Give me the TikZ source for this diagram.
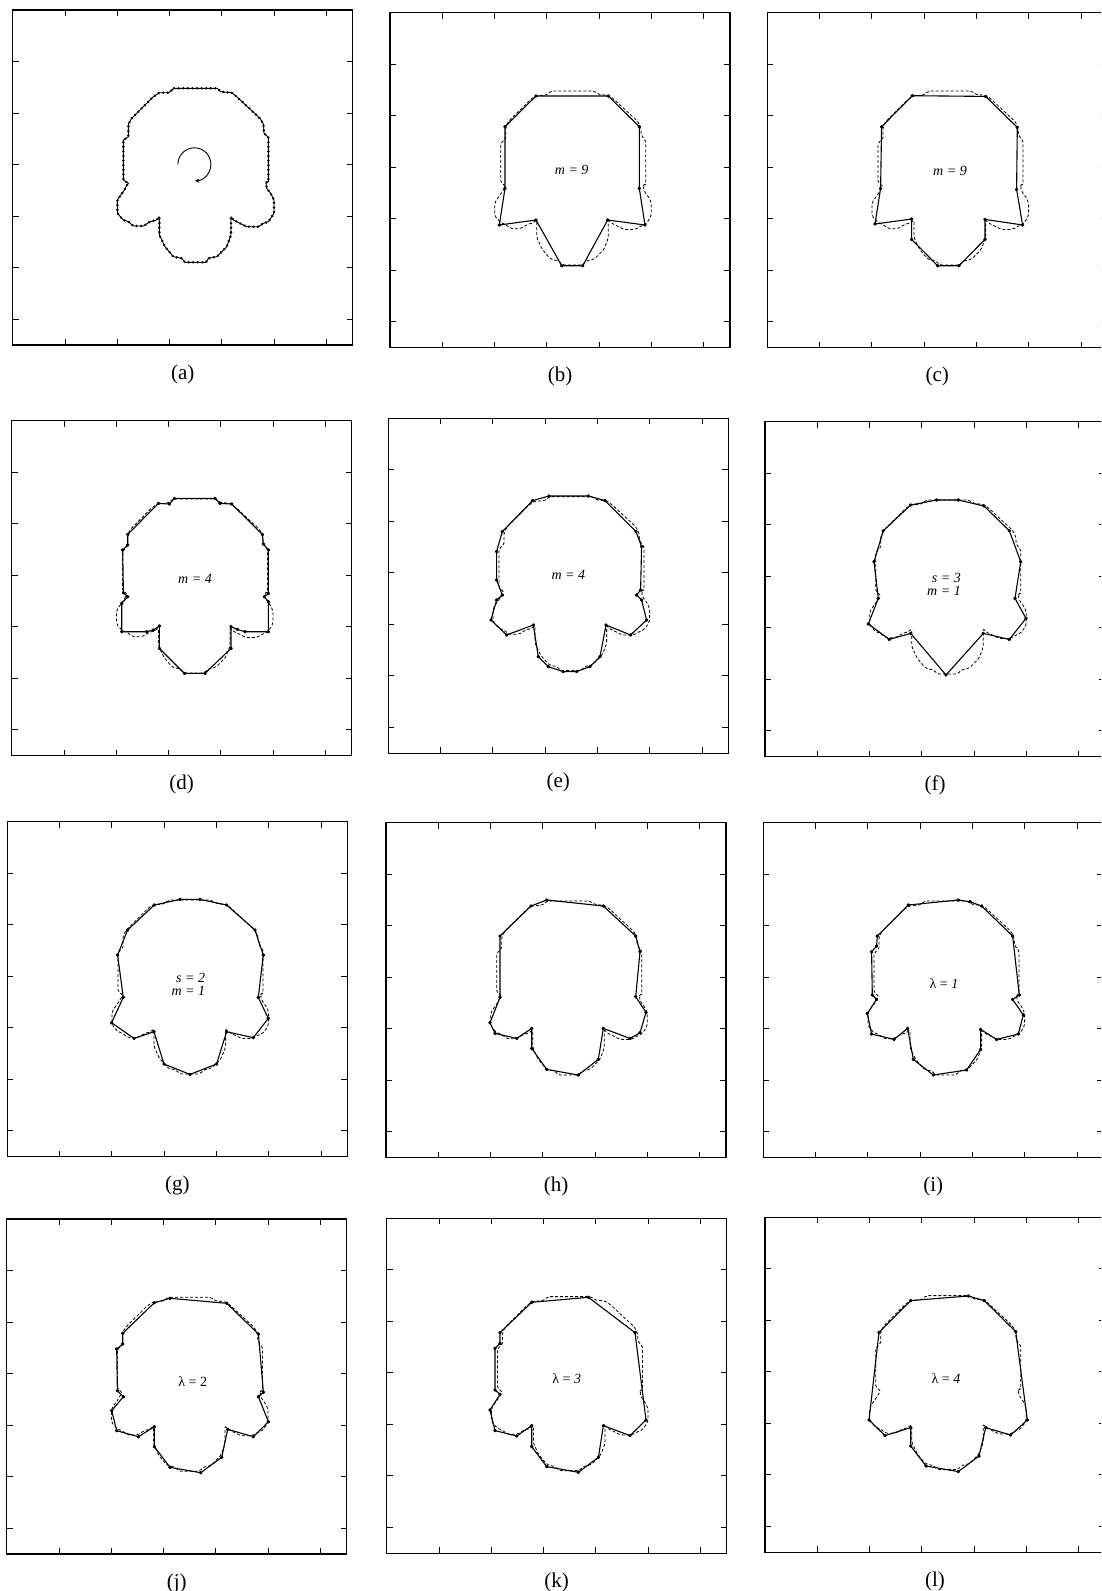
\documentclass[tikz,border=0pt]{standalone}
\usepackage{fontspec}
\setmainfont{Liberation Serif}
\usetikzlibrary{decorations.markings}

\tikzset{
  frame/.style={line width=1.4pt},
  tickmark/.style={line width=1pt},
  approx/.style={line width=1.1pt, line join=round},
  orig/.style={line width=0.8pt, dash pattern=on 3pt off 2pt, rounded corners=2pt},
  chain/.style={line width=0.9pt, line join=round, postaction={decorate},
    decoration={markings, mark=between positions 0 and 1 step 4.6pt with {\fill (0,0) circle (1.4pt);}}},
  turn/.style={line width=0.9pt, -stealth},
  sublabel/.style={font=\fontsize{21}{22}\selectfont},
  param/.style={font=\fontsize{14}{13}\selectfont, align=right, inner sep=0pt},
}

% original contour, frame-local pixels
\newcommand{\baseshape}{(161.3,78.3) -- (204.7,78.3) -- (208,81.7) -- (219,82.7) -- (224,86.7) -- (247.3,108.3) -- (250.7,114) -- (251.3,123.3) -- (255.7,127.3) -- (255.7,171.7) -- (253.3,172.7) -- (254,178.3) -- (258,183.3) -- (261.3,190) -- (261.3,203.3) -- (255.7,211.7) -- (250.7,213.3) -- (245.7,216.7) -- (234,216.7) -- (227.3,213.3) -- (220.7,210) -- (218.3,206.7) -- (218.3,225) -- (214,236.7) -- (204,246.7) -- (195.7,248.3) -- (193.3,252.3) -- (172.3,252.3) -- (169,248.3) -- (160.7,246.7) -- (152.3,236.7) -- (146.7,225) -- (146.7,206.7) -- (144,210) -- (137.3,211.7) -- (130.7,216) -- (120.7,216) -- (115.7,211.7) -- (110.7,210) -- (104.7,203.3) -- (104.7,190) -- (108,185) -- (111.3,180.7) -- (113.3,176.7) -- (115.7,173.3) -- (110.7,170) -- (110.7,130) -- (115.7,126.7) -- (115.7,114) -- (119,108.3) -- (140.7,86.7) -- (146.7,82.7) -- (156,82.7) -- cycle}

% frame with ticks and caption
\newcommand{\panelframe}[2]{%
  \draw[frame] (0,0) rectangle (340,335);
  \foreach \k in {1,...,6} {
    \draw[tickmark] (52.3*\k,0) -- ++(0,6);
    \draw[tickmark] (52.3*\k,335) -- ++(0,-6);
    \draw[tickmark] (0,51.5*\k) -- ++(6,0);
    \draw[tickmark] (340,51.5*\k) -- ++(-6,0);
  }
  \node[sublabel] (#1) at (170,364) {#2};
}

% approximating polygon with vertex dots
\newcommand{\approxpoly}[1]{%
  \draw[orig] \baseshape;
  \draw[approx] plot[mark=*, mark size=1.2pt] coordinates {#1} -- cycle;
}

\begin{document}
\begin{tikzpicture}[x=1pt, y=-1pt]
  \useasboundingbox (0,0) rectangle (1101,1591);
  \clip (0,0) rectangle (1101,1591);

  % (a) original contour
  \begin{scope}[shift={(12.7,10)}]
    \panelframe{la}{(a)}
    \draw[chain] \baseshape;
    \draw[turn] (181.7,154.3) ++(180:16.5) arc[start angle=180, end angle=448, radius=16.5];
  \end{scope}

  % (b)
  \begin{scope}[shift={(390,12.7)}]
    \panelframe{lb}{(b)}
    \approxpoly{(146,83.3) (218.3,83.3) (249.3,114) (249.3,175.7) (255,212.3) (217.7,207.3) (192.7,253) (171.7,253) (146,207.3) (109.3,212.3) (115,175.7) (115,114)}
    \node[param] (tb) at (181.7,157.3) {\itshape m = 9};
  \end{scope}

  % (c)
  \begin{scope}[shift={(767.3,12.7)}]
    \panelframe{lc}{(c)}
    \approxpoly{(145,83) (218.3,83.7) (250,114.7) (249.3,176.7) (255.3,212.3) (217.7,206.7) (217.7,226.7) (191.7,253) (170.3,253) (144.3,226.7) (144.3,206.3) (107.7,211.3) (113.3,175.7) (114.3,114)}
    \node[param] (tc) at (182.7,158) {\itshape m = 9};
  \end{scope}

  % (d)
  \begin{scope}[shift={(11.7,420.7)}]
    \panelframe{ld}{(d)}
    \approxpoly{(162.7,77.7) (203.3,77.7) (208.3,82.7) (220,83.3) (250.7,113.7) (251.7,123.3) (256.7,129.3) (256.7,172.7) (252.7,176) (256.7,181) (256.7,211) (233.3,211) (225.7,208.7) (219.3,206) (219.3,227.7) (193.3,252.7) (172.7,252.7) (147.7,227.7) (147.7,205.3) (141.7,209.3) (135,211) (110,211) (110,182.7) (116,176) (111.7,172) (111,129.3) (116,124.3) (116,113.7) (146.7,82.7) (157.7,83.3)}
    \node[param] (td) at (183.3,157.7) {\itshape m = 4};
  \end{scope}

  % (e)
  \begin{scope}[shift={(388.3,418.3)}]
    \panelframe{le}{(e)}
    \approxpoly{(160.7,77.7) (200,77.7) (216.7,82.3) (247.7,113.3) (253.3,128.3) (252.3,171.7) (248.3,176.7) (253.3,181.7) (258.3,201.7) (242.3,216.7) (217.7,206.7) (211.7,238.3) (201.7,248.3) (188.3,253.3) (175,253.3) (160,248.3) (150,238.3) (145,206.7) (118.3,216.7) (102.7,201.7) (108.3,181.7) (114,176.7) (108.3,161.7) (108.3,133.3) (114,113.3) (144.3,82.3)}
    \node[param] (te) at (180,156.7) {\itshape m = 4};
  \end{scope}

  % (f)
  \begin{scope}[shift={(765,421.7)}]
    \panelframe{lf}{(f)}
    \approxpoly{(145.7,83.3) (171.7,78.3) (193.3,78.3) (219,84.3) (244.3,109) (255.7,140) (250,176.7) (261,196.7) (244.3,217.7) (218.3,211.7) (181,253.3) (145.7,211.7) (124.3,217.7) (103.3,202.3) (113.3,176.7) (109,140) (118.3,109)}
    \node[param] (tf) at (179,162.3) {\itshape s = 3\\ \itshape m = 1};
  \end{scope}

  % (g)
  \begin{scope}[shift={(7.3,821.7)}]
    \panelframe{lg}{(g)}
    \approxpoly{(147,83.3) (172.7,77.7) (192.7,77.7) (219.3,83.3) (247.7,108.3) (256,133.3) (251,175.7) (261,196.7) (246,216) (219.3,210) (209.3,242.3) (182.7,252.7) (156.7,242.3) (146.7,210) (126.7,216.7) (104.3,201) (116,175.7) (110.3,133.3) (120.3,108.3)}
    \node[param] (tg) at (181,162.3) {\itshape s = 2\\ \itshape m = 1};
  \end{scope}

  % (h)
  \begin{scope}[shift={(386,822.7)}]
    \panelframe{lh}{(h)}
    \approxpoly{(160.7,77.3) (217.3,83.3) (249.7,113.3) (254,129) (249.7,174) (260,189.7) (254,210) (244,215.7) (217.3,205.7) (212.3,236.7) (192.3,252.3) (160.7,246.7) (145.7,225.7) (145.7,205.7) (130.7,215.7) (109,210.7) (104,200) (114,174.7) (114,113.3) (145,83.3)}
  \end{scope}

  % (i)
  \begin{scope}[shift={(763.3,822.7)}]
    \panelframe{li}{(i)}
    \approxpoly{(145,82.3) (195,77.3) (206.7,79) (218.3,83.3) (249.3,113.3) (256,172.3) (249.3,176.7) (260,192.3) (255,211.3) (233.3,216.7) (217.3,206.7) (217.3,226.7) (203.3,247.3) (170,252.3) (150,236.7) (144.3,205.7) (130.7,216.7) (108.3,211.3) (104,190.7) (113.3,176.7) (109,172.3) (108.3,129) (113.3,123.3) (114,113.3)}
    \node[param] (ti) at (180.7,160.7) {λ = \textit{1}};
  \end{scope}

  % (j)
  \begin{scope}[shift={(6.7,1219)}]
    \panelframe{lj}{(j)}
    \approxpoly{(147.7,83.7) (163.3,79.3) (220,84.3) (251.7,115) (256.7,173.3) (251.7,177.7) (261.7,202.7) (246.7,217.7) (221,210.3) (215,238.3) (194,253.7) (163.3,248.3) (147.7,227.7) (147.7,207.7) (131.7,217.7) (110,211.7) (105,191.7) (116.7,177.7) (110.7,171.7) (110,130) (116,125) (116,114.3)}
    \node[param] (tj) at (186,162.7) {λ = 2};
  \end{scope}

  % (k)
  \begin{scope}[shift={(386.7,1218.3)}]
    \panelframe{lk}{(k)}
    \approxpoly{(145,84) (201.7,79) (248.3,114.3) (259.3,201.7) (243.3,217.3) (216.7,207.3) (211.7,239) (191.7,254) (160,248.3) (145,228.3) (145,207.3) (130,217.7) (108.3,212.3) (103.3,191.7) (113.3,176) (108.3,171.7) (108.3,130) (113.3,125) (113.3,114.3)}
    \node[param] (tk) at (180,160.7) {λ = \textit{3}};
  \end{scope}

  % (l)
  \begin{scope}[shift={(765,1217.3)}]
    \panelframe{ll}{(l)}
    \approxpoly{(145.7,83.3) (203.3,78.7) (219.3,83.3) (250.7,114.3) (262.3,202.7) (245.7,217.7) (220.7,210.3) (214,238.7) (193.3,254.3) (161,248.7) (145.7,228.7) (145.7,210.3) (120,218.3) (104,202.7) (114,115)}
    \node[param] (tl) at (181,161) {λ = \textit{4}};
  \end{scope}
\end{tikzpicture}
\end{document}
